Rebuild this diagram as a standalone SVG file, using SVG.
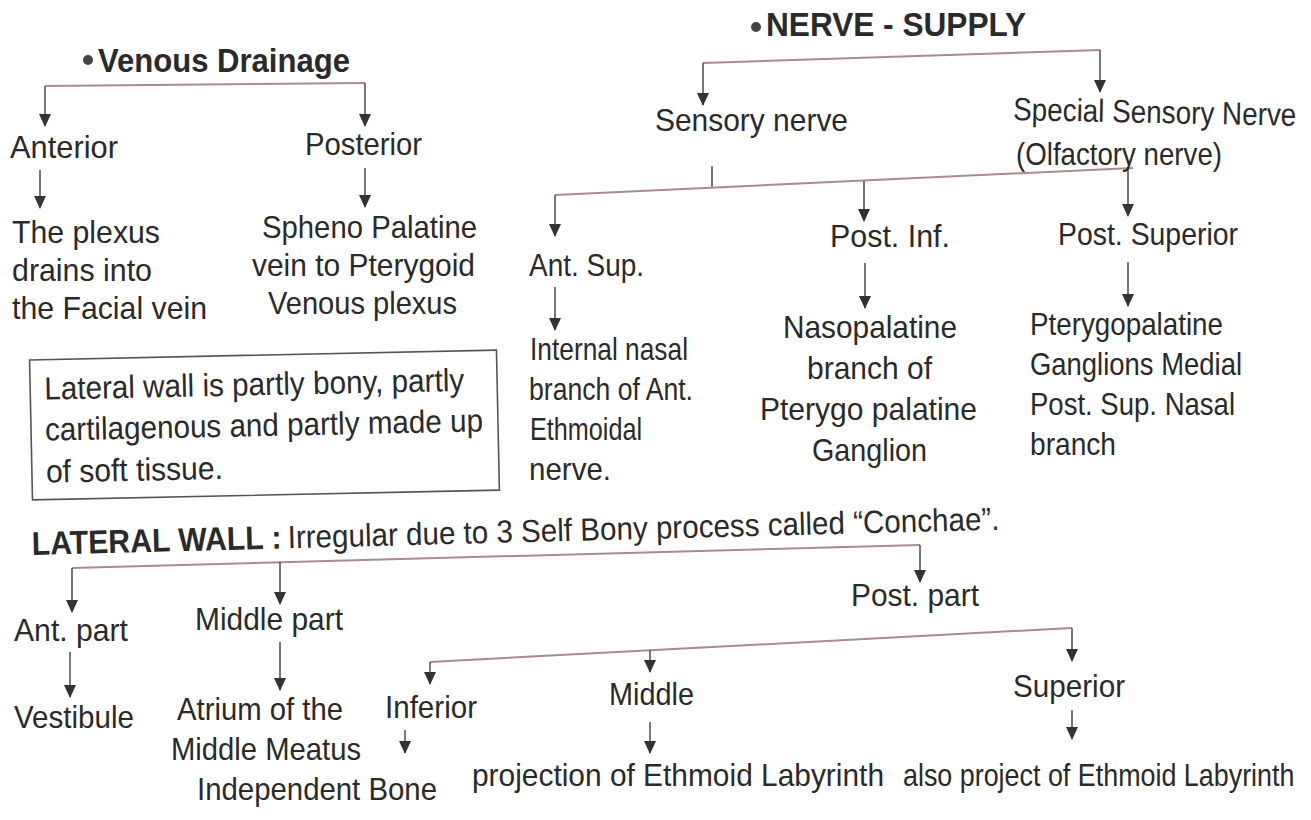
<svg xmlns="http://www.w3.org/2000/svg" width="1311" height="820" viewBox="0 0 1311 820">
<style>
.t{font-family:"Liberation Sans",Arial,sans-serif;font-size:32px;fill:#2a2a2a}
.b{font-weight:bold;font-size:33px}
.h{fill:none;stroke:#a88a90;stroke-width:2}
.v{fill:none;stroke:#555;stroke-width:1.6}
.box{fill:none;stroke:#555;stroke-width:1.6}
</style>
<defs>
<marker id="ad" markerUnits="userSpaceOnUse" markerWidth="12" markerHeight="14" refX="6" refY="13" viewBox="0 0 12 14">
<path d="M0,1 L12,1 L6,14 Z" fill="#333"/>
</marker>
</defs>
<rect width="1311" height="820" fill="#fff"/>

<g id="connectors">
<polyline class="h" points="45,86 365,83"/>
<line class="v" x1="45" y1="86" x2="45" y2="126" marker-end="url(#ad)"/>
<line class="v" x1="365" y1="83" x2="365" y2="126" marker-end="url(#ad)"/>
<line class="v" x1="40" y1="170" x2="40" y2="208" marker-end="url(#ad)"/>
<line class="v" x1="365" y1="168" x2="365" y2="207" marker-end="url(#ad)"/>

<polyline class="h" points="703,63 1100,50"/>
<line class="v" x1="703" y1="63" x2="703" y2="105" marker-end="url(#ad)"/>
<line class="v" x1="1100" y1="50" x2="1100" y2="92" marker-end="url(#ad)"/>
<line class="v" x1="712" y1="166" x2="712" y2="188"/>
<polyline class="h" points="555,195 1133,168"/>
<line class="v" x1="555" y1="195" x2="555" y2="236" marker-end="url(#ad)"/>
<line class="v" x1="864" y1="181" x2="864" y2="221" marker-end="url(#ad)"/>
<line class="v" x1="1128" y1="168" x2="1128" y2="216" marker-end="url(#ad)"/>
<line class="v" x1="555" y1="287" x2="555" y2="330" marker-end="url(#ad)"/>
<line class="v" x1="865" y1="263" x2="865" y2="308" marker-end="url(#ad)"/>
<line class="v" x1="1128" y1="262" x2="1128" y2="306" marker-end="url(#ad)"/>

<polyline class="h" points="72,568 920,545"/>
<line class="v" x1="72" y1="568" x2="72" y2="612" marker-end="url(#ad)"/>
<line class="v" x1="280" y1="562" x2="280" y2="604" marker-end="url(#ad)"/>
<line class="v" x1="920" y1="545" x2="920" y2="582" marker-end="url(#ad)"/>
<line class="v" x1="70" y1="652" x2="70" y2="697" marker-end="url(#ad)"/>
<line class="v" x1="280" y1="642" x2="280" y2="690" marker-end="url(#ad)"/>

<polyline class="h" points="430,662 1072,628"/>
<line class="v" x1="430" y1="662" x2="430" y2="684" marker-end="url(#ad)"/>
<line class="v" x1="650" y1="650" x2="650" y2="672" marker-end="url(#ad)"/>
<line class="v" x1="1072" y1="628" x2="1072" y2="661" marker-end="url(#ad)"/>
<line class="v" x1="405" y1="730" x2="405" y2="753" marker-end="url(#ad)"/>
<line class="v" x1="650" y1="722" x2="650" y2="753" marker-end="url(#ad)"/>
<line class="v" x1="1072" y1="710" x2="1072" y2="739" marker-end="url(#ad)"/>
</g>

<g id="venous-title">
<circle cx="88" cy="60" r="5" fill="#444"/>
<text class="t b" x="98" y="72" textLength="252" lengthAdjust="spacingAndGlyphs">Venous Drainage</text>
</g>
<g id="anterior"><text class="t" x="10" y="158" textLength="108" lengthAdjust="spacingAndGlyphs">Anterior</text></g>
<g id="posterior"><text class="t" x="305" y="155" textLength="117" lengthAdjust="spacingAndGlyphs">Posterior</text></g>
<g id="anterior-detail">
<text class="t" x="12" y="243" textLength="148" lengthAdjust="spacingAndGlyphs">The plexus</text>
<text class="t" x="12" y="281" textLength="140" lengthAdjust="spacingAndGlyphs">drains into</text>
<text class="t" x="12" y="319" textLength="195" lengthAdjust="spacingAndGlyphs">the Facial vein</text>
</g>
<g id="posterior-detail">
<text class="t" x="262" y="238" textLength="215" lengthAdjust="spacingAndGlyphs">Spheno Palatine</text>
<text class="t" x="252" y="276" textLength="223" lengthAdjust="spacingAndGlyphs">vein to Pterygoid</text>
<text class="t" x="268" y="314" textLength="189" lengthAdjust="spacingAndGlyphs">Venous plexus</text>
</g>
<g id="lateral-wall-note" transform="rotate(-1.2 265 426)">
<rect class="box" x="31" y="355" width="467" height="140"/>
<text class="t" x="45" y="395" textLength="420" lengthAdjust="spacingAndGlyphs">Lateral wall is partly bony, partly</text>
<text class="t" x="45" y="436" textLength="438" lengthAdjust="spacingAndGlyphs">cartilagenous and partly made up</text>
<text class="t" x="45" y="478" textLength="177" lengthAdjust="spacingAndGlyphs">of soft tissue.</text>
</g>

<g id="nerve-title">
<circle cx="756" cy="27" r="5" fill="#444"/>
<text class="t b" x="766" y="36" textLength="260" lengthAdjust="spacingAndGlyphs">NERVE - SUPPLY</text>
</g>
<g id="sensory"><text class="t" x="655" y="131" textLength="193" lengthAdjust="spacingAndGlyphs">Sensory nerve</text></g>
<g id="special-sensory">
<text class="t" transform="rotate(1.2 1013 120) translate(1013 120) scale(0.87 1)">Special Sensory Nerve</text>
<text class="t" x="1016" y="165" textLength="206" lengthAdjust="spacingAndGlyphs">(Olfactory nerve)</text>
</g>
<g id="ant-sup"><text class="t" x="529" y="276" textLength="115" lengthAdjust="spacingAndGlyphs">Ant. Sup.</text></g>
<g id="ant-sup-detail">
<text class="t" x="530" y="360" textLength="158" lengthAdjust="spacingAndGlyphs">Internal nasal</text>
<text class="t" x="529" y="400" textLength="164" lengthAdjust="spacingAndGlyphs">branch of Ant.</text>
<text class="t" x="530" y="440" textLength="112" lengthAdjust="spacingAndGlyphs">Ethmoidal</text>
<text class="t" x="529" y="480" textLength="82" lengthAdjust="spacingAndGlyphs">nerve.</text>
</g>
<g id="post-inf"><text class="t" x="830" y="247" textLength="120" lengthAdjust="spacingAndGlyphs">Post. Inf.</text></g>
<g id="post-inf-detail">
<text class="t" x="783" y="338" textLength="174" lengthAdjust="spacingAndGlyphs">Nasopalatine</text>
<text class="t" x="807" y="379" textLength="125" lengthAdjust="spacingAndGlyphs">branch of</text>
<text class="t" x="760" y="420" textLength="217" lengthAdjust="spacingAndGlyphs">Pterygo palatine</text>
<text class="t" x="812" y="461" textLength="115" lengthAdjust="spacingAndGlyphs">Ganglion</text>
</g>
<g id="post-superior"><text class="t" x="1058" y="245" textLength="180" lengthAdjust="spacingAndGlyphs">Post. Superior</text></g>
<g id="post-superior-detail">
<text class="t" x="1030" y="335" textLength="193" lengthAdjust="spacingAndGlyphs">Pterygopalatine</text>
<text class="t" x="1030" y="375" textLength="212" lengthAdjust="spacingAndGlyphs">Ganglions Medial</text>
<text class="t" x="1030" y="415" textLength="205" lengthAdjust="spacingAndGlyphs">Post. Sup. Nasal</text>
<text class="t" x="1030" y="455" textLength="86" lengthAdjust="spacingAndGlyphs">branch</text>
</g>

<g id="lateral-wall-title" transform="rotate(-1.5 32 555)">
<text class="t b" x="32" y="555" textLength="250" lengthAdjust="spacingAndGlyphs">LATERAL WALL :</text>
<text class="t" x="288" y="555" textLength="712" lengthAdjust="spacingAndGlyphs">Irregular due to 3 Self Bony process called “Conchae”.</text>
</g>
<g id="ant-part"><text class="t" x="14" y="641" textLength="114" lengthAdjust="spacingAndGlyphs">Ant. part</text></g>
<g id="middle-part"><text class="t" x="195" y="630" textLength="148" lengthAdjust="spacingAndGlyphs">Middle part</text></g>
<g id="post-part"><text class="t" x="851" y="606" textLength="128" lengthAdjust="spacingAndGlyphs">Post. part</text></g>
<g id="vestibule"><text class="t" x="14" y="728" textLength="120" lengthAdjust="spacingAndGlyphs">Vestibule</text></g>
<g id="atrium">
<text class="t" x="177" y="720" textLength="166" lengthAdjust="spacingAndGlyphs">Atrium of the</text>
<text class="t" x="171" y="760" textLength="190" lengthAdjust="spacingAndGlyphs">Middle Meatus</text>
<text class="t" x="197" y="800" textLength="240" lengthAdjust="spacingAndGlyphs">Independent Bone</text>
</g>
<g id="inferior"><text class="t" x="385" y="718" textLength="92" lengthAdjust="spacingAndGlyphs">Inferior</text></g>
<g id="middle"><text class="t" x="609" y="705" textLength="85" lengthAdjust="spacingAndGlyphs">Middle</text></g>
<g id="superior"><text class="t" x="1013" y="697" textLength="112" lengthAdjust="spacingAndGlyphs">Superior</text></g>
<g id="middle-detail"><text class="t" x="472" y="786" textLength="412" lengthAdjust="spacingAndGlyphs">projection of Ethmoid Labyrinth</text></g>
<g id="superior-detail"><text class="t" transform="translate(903 786) scale(0.84 1)">also project of Ethmoid Labyrinth</text></g>
</svg>
